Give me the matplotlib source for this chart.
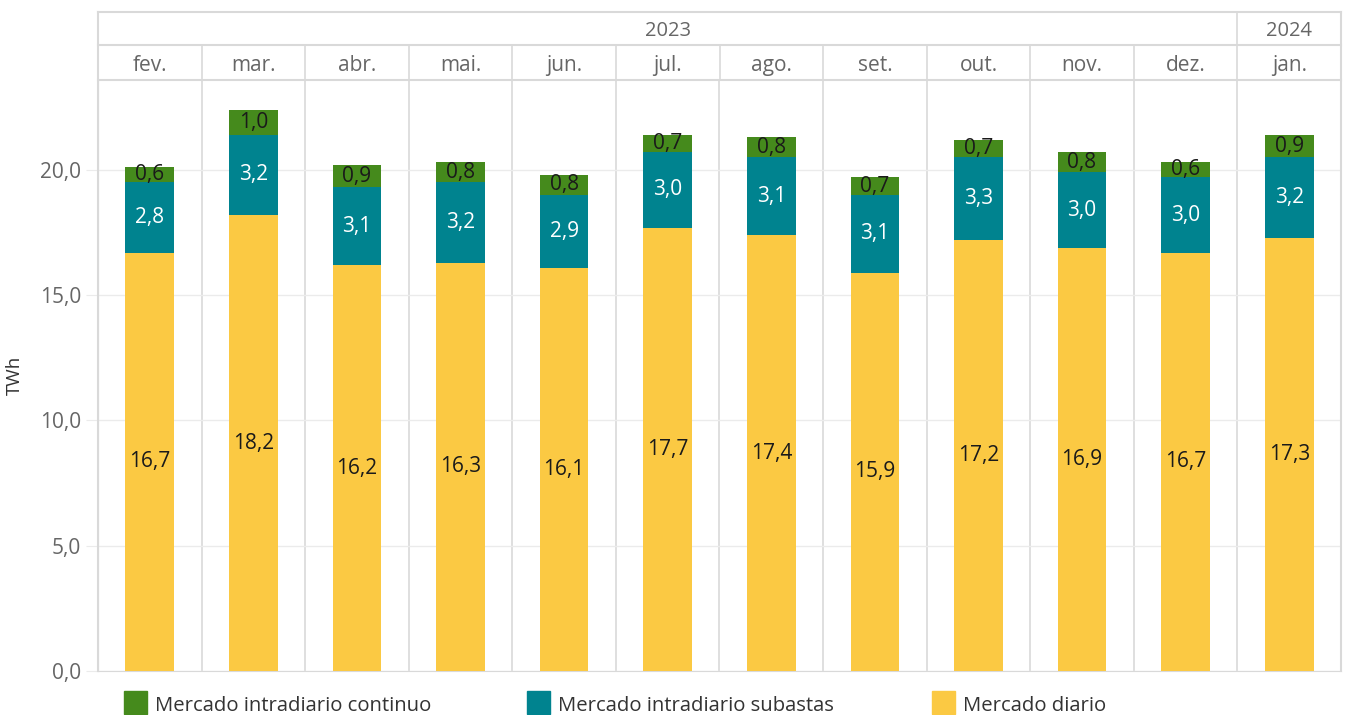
import matplotlib
matplotlib.use("Agg")
import matplotlib.pyplot as plt
from matplotlib.patches import Rectangle
import numpy as np

months = ["fev.", "mar.", "abr.", "mai.", "jun.", "jul.", "ago.", "set.", "out.", "nov.", "dez.", "jan."]
years = ["2023"] * 11 + ["2024"]
diario = [16.7, 18.2, 16.2, 16.3, 16.1, 17.7, 17.4, 15.9, 17.2, 16.9, 16.7, 17.3]
subastas = [2.8, 3.2, 3.1, 3.2, 2.9, 3.0, 3.1, 3.1, 3.3, 3.0, 3.0, 3.2]
continuo = [0.6, 1.0, 0.9, 0.8, 0.8, 0.7, 0.8, 0.7, 0.7, 0.8, 0.6, 0.9]
series_names = ["Mercado intradiario continuo", "Mercado intradiario subastas", "Mercado diario"]
yticks = [0, 5, 10, 15, 20]

C_GREEN = "#458a1c"
C_TEAL = "#00838f"
C_YELLOW = "#fbc943"
GRID = "#d9d9d9"
GRIDL = "#ebebeb"

plt.rcParams['font.family'] = ['Open Sans', 'DejaVu Sans']

W, H = 1351, 715
fig = plt.figure(figsize=(W / 100, H / 100), dpi=100)
L, R, T, B = 98, 1341, 80, 671
ax = fig.add_axes([L / W, 1 - B / H, (R - L) / W, (B - T) / H])

n = len(months)
x = np.arange(n)
ax.set_xlim(-0.5, n - 0.5)
ax.set_ylim(0, 23.59)

bw = 0.47
d = np.array(diario)
s = np.array(subastas)
c = np.array(continuo)
ax.bar(x, d, bw, color=C_YELLOW, zorder=3)
ax.bar(x, s, bw, bottom=d, color=C_TEAL, zorder=3)
ax.bar(x, c, bw, bottom=d + s, color=C_GREEN, zorder=3)

LBL = 15
fmt = lambda v: f"{v:.1f}".replace(".", ",")
for i in range(n):
    ax.text(x[i], d[i] / 2, fmt(d[i]), ha="center", va="center", fontsize=LBL, color="#1a1a1a", zorder=4)
    ax.text(x[i], d[i] + s[i] / 2, fmt(s[i]), ha="center", va="center", fontsize=LBL, color="white", zorder=4)
    ax.text(x[i], d[i] + s[i] + c[i] / 2, fmt(c[i]), ha="center", va="center", fontsize=LBL, color="#1a1a1a", zorder=4)

TK = 15
ax.set_yticks(yticks)
ax.set_yticklabels([fmt(v) for v in yticks], fontsize=TK, color="#666666")
ax.yaxis.grid(True, color=GRIDL, lw=1, zorder=0)
ax.tick_params(axis="y", length=9, color=GRIDL, pad=3)
ax.set_xticks([])
for sp in ["top", "right"]:
    ax.spines[sp].set_visible(False)
ax.spines["left"].set_color(GRID)
ax.spines["bottom"].set_color(GRID)
ax.set_ylabel("TWh", fontsize=13.5, color="#333333", labelpad=12)

for i in range(1, n):
    ax.axvline(i - 0.5, color=GRID, lw=1.2, zorder=1)

def fx(px):
    return px / W
def fy(py):
    return 1 - py / H

colw = (R - L) / n
y_year_top, y_mid, y_bot = 12, 45, 80
for yy in (y_year_top, y_mid, y_bot):
    fig.add_artist(plt.Line2D([fx(L), fx(R)], [fy(yy)] * 2, color=GRID, lw=1.5))
fig.add_artist(plt.Line2D([fx(L), fx(L)], [fy(y_year_top), fy(B)], color=GRID, lw=1.5))
fig.add_artist(plt.Line2D([fx(R), fx(R)], [fy(y_year_top), fy(B)], color=GRID, lw=1.5))
for i in range(1, n):
    xp = L + i * colw
    top = y_year_top if years[i] != years[i - 1] else y_mid
    fig.add_artist(plt.Line2D([fx(xp), fx(xp)], [fy(top), fy(y_bot)], color=GRID, lw=1.2))
for i in range(n):
    xc = L + (i + 0.5) * colw
    fig.text(fx(xc), fy((y_mid + y_bot) / 2 + 3), months[i], ha="center", va="center", fontsize=15, color="#666666")
uniq = []
for i, yv in enumerate(years):
    if not uniq or uniq[-1][0] != yv:
        uniq.append([yv, i, i])
    else:
        uniq[-1][2] = i
for yv, i0, i1 in uniq:
    xc = L + ((i0 + i1 + 1) / 2) * colw
    fig.text(fx(xc), fy((y_year_top + y_mid) / 2 + 3), yv, ha="center", va="center", fontsize=14.5, color="#666666")

leg_x = [124, 527, 932]
cols = [C_GREEN, C_TEAL, C_YELLOW]
for lx, col, name in zip(leg_x, cols, series_names):
    fig.add_artist(Rectangle((fx(lx), fy(714)), 23 / W, 23 / H, color=col, transform=fig.transFigure))
    fig.text(fx(lx + 31), fy(706), name, ha="left", va="center", fontsize=14.6, color="#333333")

fig.savefig("out.png", dpi=100)
